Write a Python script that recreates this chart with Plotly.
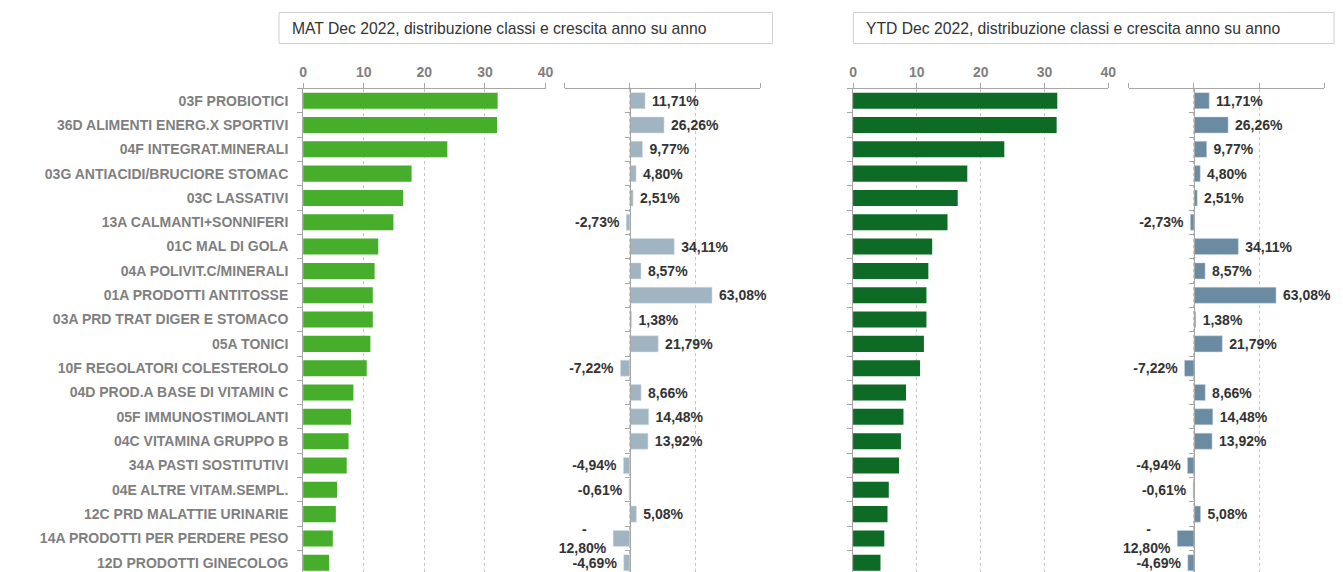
import plotly.graph_objects as go

# categories, top to bottom
categories = [
    "03F PROBIOTICI", "36D ALIMENTI ENERG.X SPORTIVI", "04F INTEGRAT.MINERALI",
    "03G ANTIACIDI/BRUCIORE STOMAC", "03C LASSATIVI", "13A CALMANTI+SONNIFERI",
    "01C MAL DI GOLA", "04A POLIVIT.C/MINERALI", "01A PRODOTTI ANTITOSSE",
    "03A PRD TRAT DIGER E STOMACO", "05A TONICI", "10F REGOLATORI COLESTEROLO",
    "04D PROD.A BASE DI VITAMIN C", "05F IMMUNOSTIMOLANTI", "04C VITAMINA GRUPPO B",
    "34A PASTI SOSTITUTIVI", "04E ALTRE VITAM.SEMPL.", "12C PRD MALATTIE URINARIE",
    "14A PRODOTTI PER PERDERE PESO", "12D PRODOTTI GINECOLOG",
]
mat_share = [32.1, 32.0, 23.8, 17.9, 16.5, 14.9, 12.4, 11.8, 11.5, 11.5,
             11.1, 10.5, 8.3, 7.9, 7.5, 7.2, 5.6, 5.4, 4.9, 4.3]
ytd_share = [32.0, 31.9, 23.7, 17.9, 16.4, 14.8, 12.4, 11.8, 11.5, 11.5,
             11.1, 10.5, 8.3, 7.9, 7.5, 7.2, 5.6, 5.4, 4.9, 4.3]
mat_growth = [11.71, 26.26, 9.77, 4.80, 2.51, -2.73, 34.11, 8.57, 63.08, 1.38,
              21.79, -7.22, 8.66, 14.48, 13.92, -4.94, -0.61, 5.08, -12.80, -4.69]
ytd_growth = [11.71, 26.26, 9.77, 4.80, 2.51, -2.73, 34.11, 8.57, 63.08, 1.38,
              21.79, -7.22, 8.66, 14.48, 13.92, -4.94, -0.61, 5.08, -12.80, -4.69]
share_ticks = [0, 10, 20, 30, 40]

W, H = 1343, 572


def pct_label(v):
    s = f"{v:.2f}".replace(".", ",") + "%"
    # long negative labels wrap after the minus sign in the original
    if v <= -10:
        return "-<br>" + s[1:] + "\u00a0"
    if v < 0:
        return s + "\u00a0"
    return "\u00a0" + s


def px(x0, x1):
    return [x0 / W, x1 / W]


dom_mat = px(301.8, 546.4)
dom_mat_g = px(565.7, 763)
dom_ytd = px(856.7, 1114.3)
dom_ytd_g = px(1135, 1332)
g_range = [-50, 100]
ydom = [0, (H - 88.5) / H]
yrange = [len(categories) - 0.62, -0.5]

GREY = "#a6a6a6"
LBL = "#7f7f7f"
TXT = "#333333"
DASH = "3px,3px"

fig = go.Figure()

fig.add_trace(go.Bar(x=mat_share, y=categories, orientation="h", xaxis="x", yaxis="y",
                     marker=dict(color="#47ae2b", line=dict(width=0)), hoverinfo="x+y"))
fig.add_trace(go.Bar(x=mat_growth, y=categories, orientation="h", xaxis="x2", yaxis="y2",
                     marker=dict(color="#a1b4c2", line=dict(color="#d9e1e7", width=0.5)),
                     text=[pct_label(v) for v in mat_growth], textposition="outside",
                     constraintext="none", cliponaxis=False,
                     textfont=dict(size=14, color=TXT, family="Arial", weight="bold")))
fig.add_trace(go.Bar(x=ytd_share, y=categories, orientation="h", xaxis="x3", yaxis="y3",
                     marker=dict(color="#0e6b26", line=dict(width=0))))
fig.add_trace(go.Bar(x=ytd_growth, y=categories, orientation="h", xaxis="x4", yaxis="y4",
                     marker=dict(color="#6a8ba2", line=dict(color="#c9d5de", width=0.5)),
                     text=[pct_label(v) for v in ytd_growth], textposition="outside",
                     constraintext="none", cliponaxis=False,
                     textfont=dict(size=14, color=TXT, family="Arial", weight="bold")))

share_axis = dict(range=[0, 40], side="top", tickvals=share_ticks, showline=True,
                  linecolor=GREY, linewidth=1, ticks="outside", ticklen=5, tickcolor=GREY,
                  showgrid=True, gridcolor="#c4c4c4", griddash=DASH, gridwidth=1,
                  zeroline=False, fixedrange=True,
                  tickfont=dict(size=14, color=LBL, family="Arial", weight="bold"))
growth_axis = dict(range=g_range, side="top", dtick=50, showline=True, linecolor=GREY,
                   linewidth=1, ticks="outside", ticklen=5, tickcolor=GREY,
                   showticklabels=False, showgrid=True, gridcolor="#c4c4c4",
                   griddash=DASH, gridwidth=1, zeroline=False, fixedrange=True)
cat_axis = dict(range=yrange, domain=ydom, type="category", showline=True, linecolor=GREY,
                linewidth=1, ticks="outside", ticklen=5, tickcolor=GREY,
                tickson="boundaries", showgrid=False, fixedrange=True)


def zero_pos(dom):
    return dom[0] + (0 - g_range[0]) / (g_range[1] - g_range[0]) * (dom[1] - dom[0])


fig.update_layout(
    width=W, height=H,
    margin=dict(l=0, r=0, t=0, b=0),
    paper_bgcolor="white", plot_bgcolor="white",
    showlegend=False, bargap=0.34,
    font=dict(family="Arial, Liberation Sans", color=TXT),
    xaxis=dict(share_axis, domain=dom_mat, anchor="y"),
    xaxis2=dict(growth_axis, domain=dom_mat_g, anchor="y2"),
    xaxis3=dict(share_axis, domain=dom_ytd, anchor="y3"),
    xaxis4=dict(growth_axis, domain=dom_ytd_g, anchor="y4"),
    yaxis=dict(cat_axis, anchor="x", ticklabelstandoff=11,
               tickfont=dict(size=14, color=LBL, family="Arial", weight="bold")),
    yaxis2=dict(cat_axis, anchor="free", position=zero_pos(dom_mat_g),
                showticklabels=False),
    yaxis3=dict(cat_axis, anchor="x3", showticklabels=False),
    yaxis4=dict(cat_axis, anchor="free", position=zero_pos(dom_ytd_g),
                showticklabels=False),
)

# title boxes
boxes = [
    (277.5, 775.5, "MAT Dec 2022, distribuzione classi e crescita anno su anno"),
    (857, 1342, "YTD Dec 2022, distribuzione classi e crescita anno su anno"),
]
for x0, x1, title in boxes:
    fig.add_shape(type="rect", xref="paper", yref="paper",
                  x0=x0 / W, x1=x1 / W, y0=1 - 43.5 / H, y1=1 - 12.5 / H,
                  line=dict(color="#cfcfcf", width=1), fillcolor="white")
    fig.add_annotation(xref="paper", yref="paper", x=(x0 + 11) / W, y=1 - 28 / H,
                       xanchor="left", yanchor="middle", showarrow=False, text=title,
                       font=dict(size=15.7, color=TXT, family="Arial"))

# drop the default page margin so the figure fills the window
fig.write_html("out.html", config={"displayModeBar": False},
               post_script="document.body.style.margin='0';")
